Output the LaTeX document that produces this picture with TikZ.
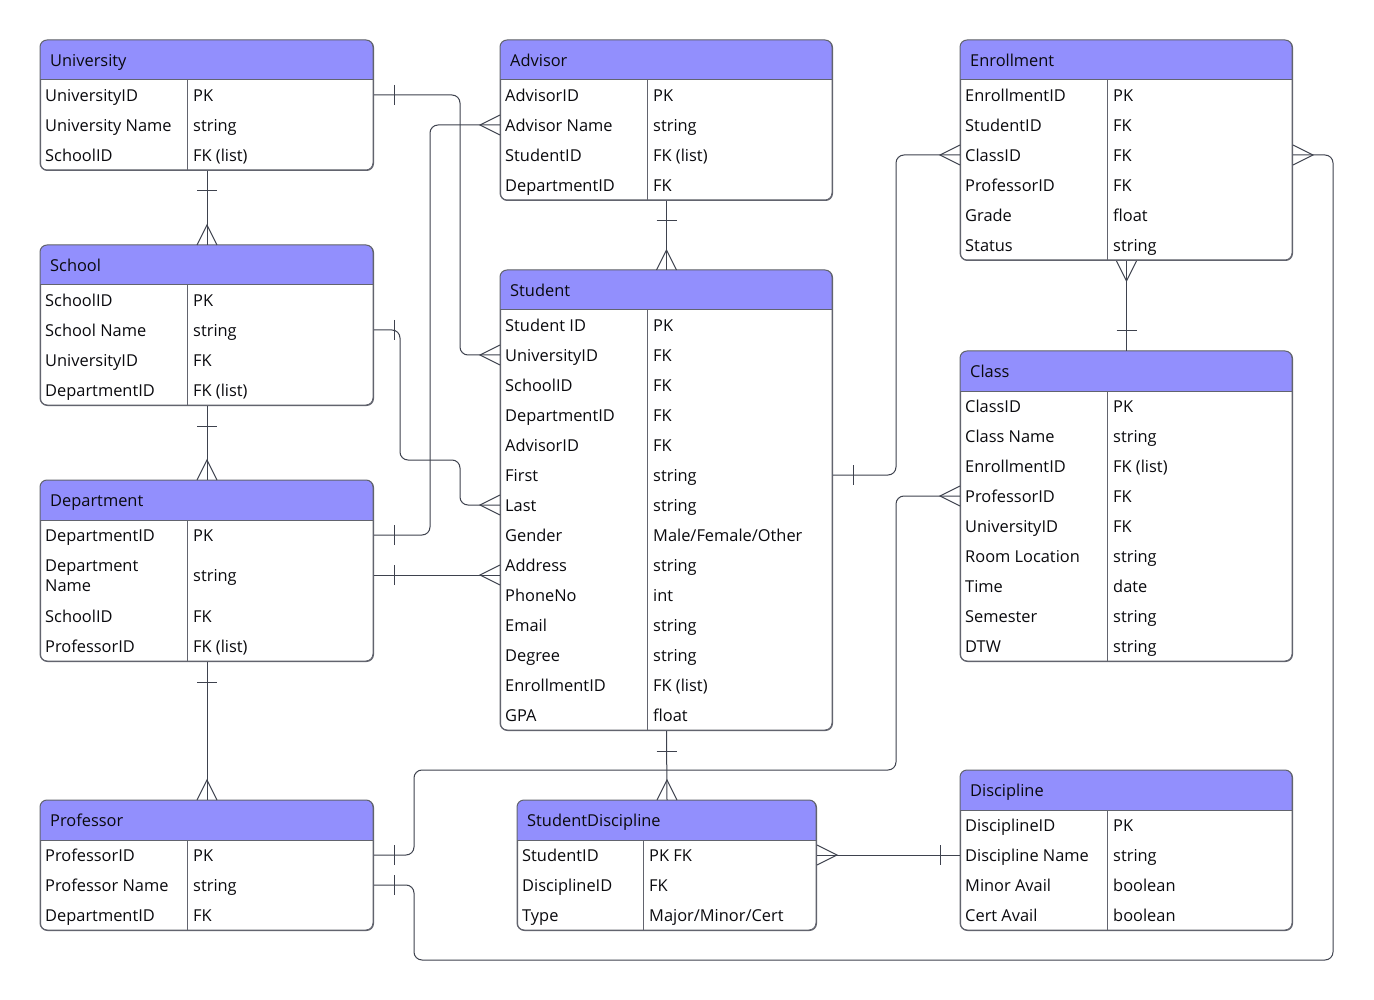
\documentclass[tikz,border=0pt]{standalone}
\usepackage{fontspec}
\setmainfont{Open Sans}
\usetikzlibrary{calc}
\definecolor{hdr}{RGB}{146,143,253}
\definecolor{boxline}{RGB}{98,100,110}
\definecolor{conn}{RGB}{62,66,78}
\definecolor{txt}{RGB}{10,10,14}
\tikzset{
  ent/.style={draw=boxline, line width=1pt, rounded corners=7pt, inner sep=0pt, fill=white, anchor=north west},
  hd/.style={anchor=base west, inner sep=0pt, text=txt, font=\fontsize{16.4}{20}\selectfont},
  fld/.style={anchor=base west, inner sep=0pt, text=txt, font=\fontsize{16.4}{20}\selectfont},
  rel/.style={draw=conn, line width=1pt, rounded corners=8pt},
  tk/.style={draw=conn, line width=1pt},
}
% name, title, x1, y1, x2, y2, header bottom, divider x
\newcommand\entity[8]{%
  \node[ent, minimum width={#5-#3}, minimum height={#6-#4}] (#1) at (#3,#4) {};
  \begin{scope}
    \clip[rounded corners=7pt] (#3,#4) rectangle (#5,#6);
    \fill[hdr] (#3,#4) rectangle (#5,#7);
  \end{scope}
  \draw[boxline, line width=1pt, rounded corners=7pt] (#3,#4) rectangle (#5,#6);
  \draw[boxline, line width=1pt] (#3,#7) -- (#5,#7) (#8,#7) -- (#8,#6);
  \node[hd] (#1-h) at (#3+10,{(#4+#7)/2+6.3}) {#2};
}
% name, x1, xdiv, y, left, right
\newcommand\frow[6]{%
  \coordinate (#1) at (#2,#4);
  \node[fld] (#1-k) at (#2+5,#4+6.3) {#5};
  \node[fld] (#1-v) at (#3+6,#4+6.3) {#6};
}
\newcommand\tickx[2]{\draw[tk] ([xshift=#2]#1) ++(0,-10) -- ++(0,20);}
\newcommand\ticky[2]{\draw[tk] ([yshift=#2]#1) ++(-10,0) -- ++(20,0);}
\newcommand\crowx[2]{\draw[tk] ([yshift=10pt]#1) -- ([xshift=#2]#1) -- ([yshift=-10pt]#1);}
\newcommand\crowy[2]{\draw[tk] ([xshift=10pt]#1) -- ([yshift=#2]#1) -- ([xshift=-10pt]#1);}
\begin{document}
\begin{tikzpicture}[x=1pt, y=-1pt]
\useasboundingbox (0,0) rectangle (1374,1000);
\fill[white] (0,0) rectangle (1374,1000);

% University
\entity{univ}{University}{40}{40}{373}{170}{80}{187}
\frow{u1}{40}{187}{95}{UniversityID}{PK}
\frow{u2}{40}{187}{125}{University Name}{string}
\frow{u3}{40}{187}{155}{SchoolID}{FK (list)}
% Advisor
\entity{adv}{Advisor}{500}{40}{832}{200}{80}{647}
\frow{a1}{500}{647}{95}{AdvisorID}{PK}
\frow{a2}{500}{647}{125}{Advisor Name}{string}
\frow{a3}{500}{647}{155}{StudentID}{FK (list)}
\frow{a4}{500}{647}{185}{DepartmentID}{FK}
% Enrollment
\entity{enr}{Enrollment}{960}{40}{1292}{260}{80}{1107}
\frow{e1}{960}{1107}{95}{EnrollmentID}{PK}
\frow{e2}{960}{1107}{125}{StudentID}{FK}
\frow{e3}{960}{1107}{155}{ClassID}{FK}
\frow{e4}{960}{1107}{185}{ProfessorID}{FK}
\frow{e5}{960}{1107}{215}{Grade}{float}
\frow{e6}{960}{1107}{245}{Status}{string}
% School
\entity{sch}{School}{40}{245}{373}{405}{285}{187}
\frow{c1}{40}{187}{300}{SchoolID}{PK}
\frow{c2}{40}{187}{330}{School Name}{string}
\frow{c3}{40}{187}{360}{UniversityID}{FK}
\frow{c4}{40}{187}{390}{DepartmentID}{FK (list)}
% Student
\entity{stu}{Student}{500}{270}{832}{730}{310}{647}
\frow{s1}{500}{647}{325}{Student ID}{PK}
\frow{s2}{500}{647}{355}{UniversityID}{FK}
\frow{s3}{500}{647}{385}{SchoolID}{FK}
\frow{s4}{500}{647}{415}{DepartmentID}{FK}
\frow{s5}{500}{647}{445}{AdvisorID}{FK}
\frow{s6}{500}{647}{475}{First}{string}
\frow{s7}{500}{647}{505}{Last}{string}
\frow{s8}{500}{647}{535}{Gender}{Male/Female/Other}
\frow{s9}{500}{647}{565}{Address}{string}
\frow{s10}{500}{647}{595}{PhoneNo}{int}
\frow{s11}{500}{647}{625}{Email}{string}
\frow{s12}{500}{647}{655}{Degree}{string}
\frow{s13}{500}{647}{685}{EnrollmentID}{FK (list)}
\frow{s14}{500}{647}{715}{GPA}{float}
% Class
\entity{cls}{Class}{960}{351}{1292}{661}{391}{1107}
\frow{k1}{960}{1107}{406}{ClassID}{PK}
\frow{k2}{960}{1107}{436}{Class Name}{string}
\frow{k3}{960}{1107}{466}{EnrollmentID}{FK (list)}
\frow{k4}{960}{1107}{496}{ProfessorID}{FK}
\frow{k5}{960}{1107}{526}{UniversityID}{FK}
\frow{k6}{960}{1107}{556}{Room Location}{string}
\frow{k7}{960}{1107}{586}{Time}{date}
\frow{k8}{960}{1107}{616}{Semester}{string}
\frow{k9}{960}{1107}{646}{DTW}{string}
% Department
\entity{dep}{Department}{40}{480}{373}{661}{520}{187}
\frow{d1}{40}{187}{535}{DepartmentID}{PK}
\coordinate (d2) at (40,575);
\node[fld, anchor=west, align=left] (d2-k) at (45,575.5) {Department\\Name};
\node[fld] (d2-v) at (193,581.3) {string};
\frow{d3}{40}{187}{616}{SchoolID}{FK}
\frow{d4}{40}{187}{646}{ProfessorID}{FK (list)}
% Professor
\entity{prof}{Professor}{40}{800}{373}{930}{840}{187}
\frow{p1}{40}{187}{855}{ProfessorID}{PK}
\frow{p2}{40}{187}{885}{Professor Name}{string}
\frow{p3}{40}{187}{915}{DepartmentID}{FK}
% StudentDiscipline
\entity{sd}{StudentDiscipline}{517}{800}{816}{930}{840}{643}
\frow{q1}{517}{643}{855}{StudentID}{PK FK}
\frow{q2}{517}{643}{885}{DisciplineID}{FK}
\frow{q3}{517}{643}{915}{Type}{Major/Minor/Cert}
% Discipline
\entity{dis}{Discipline}{960}{770}{1292}{930}{810}{1107}
\frow{i1}{960}{1107}{825}{DisciplineID}{PK}
\frow{i2}{960}{1107}{855}{Discipline Name}{string}
\frow{i3}{960}{1107}{885}{Minor Avail}{boolean}
\frow{i4}{960}{1107}{915}{Cert Avail}{boolean}

% ---------------- vertical relations ----------------
\draw[rel] (univ.south) -- (sch.north);
\ticky{univ.south}{-20pt} \crowy{sch.north}{20pt}
\draw[rel] (sch.south) -- (dep.north);
\ticky{sch.south}{-20pt} \crowy{dep.north}{20pt}
\draw[rel] (dep.south) -- (prof.north);
\ticky{dep.south}{-20pt} \crowy{prof.north}{20pt}
\draw[rel] (adv.south) -- (stu.north);
\ticky{adv.south}{-20pt} \crowy{stu.north}{20pt}
\draw[rel] (stu.south) -- (sd.north);
\ticky{stu.south}{-20pt} \crowy{sd.north}{20pt}
\draw[rel] (enr.south) -- (cls.north);
\crowy{enr.south}{-20pt} \ticky{cls.north}{20pt}

% ---------------- routed relations ----------------
% University -> Student
\draw[rel] (univ.east |- u1) -- (460,95) -- (460,355) -- (stu.west |- s2);
\tickx{univ.east |- u1}{20pt} \crowx{stu.west |- s2}{-20pt}
% Department -> Advisor
\draw[rel] (dep.east |- d1) -- (430,535) -- (430,125) -- (adv.west |- a2);
\tickx{dep.east |- d1}{20pt} \crowx{adv.west |- a2}{-20pt}
% School -> Student
\draw[rel] (sch.east |- c2) -- (400,330) -- (400,460) -- (460,460) -- (460,505) -- (stu.west |- s7);
\tickx{sch.east |- c2}{20pt} \crowx{stu.west |- s7}{-20pt}
% Department -> Student
\draw[rel] (dep.east |- d2) -- (stu.west |- d2);
\tickx{dep.east |- d2}{20pt} \crowx{stu.west |- d2}{-20pt}
% Student -> Enrollment
\draw[rel] (stu.east |- s6) -- (896,475) -- (896,155) -- (enr.west |- e3);
\tickx{stu.east |- s6}{20pt} \crowx{enr.west |- e3}{-20pt}
% Professor -> Class
\draw[rel] (prof.east |- p1) -- (414,855) -- (414,770) -- (896,770) -- (896,496) -- (cls.west |- k4);
\tickx{prof.east |- p1}{20pt} \crowx{cls.west |- k4}{-20pt}
% Professor -> Enrollment
\draw[rel] (prof.east |- p2) -- (414,885) -- (414,960) -- (1333,960) -- (1333,155) -- (enr.east |- e3);
\tickx{prof.east |- p2}{20pt} \crowx{enr.east |- e3}{20pt}
% StudentDiscipline -> Discipline
\draw[rel] (sd.east |- q1) -- (dis.west |- i2);
\crowx{sd.east |- q1}{20pt} \tickx{dis.west |- i2}{-20pt}
\end{tikzpicture}
\end{document}
